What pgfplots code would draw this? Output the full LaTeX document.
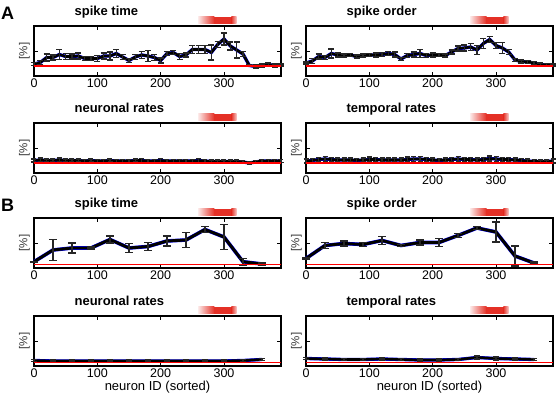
\documentclass[border=0pt]{standalone}
\usepackage{fontspec}
\setmainfont{Liberation Sans}
\usepackage{pgfplots}
\pgfplotsset{compat=1.18}
\usepackage{pgfplotstable}

\definecolor{barred}{RGB}{228,48,38}

% A: 10-neuron bins
\pgfplotstableread{
x y e
0 0.24 0.03
10 0.27 0.04
20 0.37 0.07
30 0.37 0.05
40 0.43 0.10
50 0.39 0.06
60 0.39 0.05
70 0.40 0.06
80 0.35 0.04
90 0.35 0.04
100 0.35 0.06
110 0.40 0.06
120 0.40 0.08
130 0.45 0.08
140 0.38 0.05
150 0.31 0.04
160 0.38 0.05
170 0.42 0.07
180 0.40 0.11
190 0.37 0.06
200 0.31 0.05
210 0.45 0.04
220 0.47 0.04
230 0.39 0.06
240 0.42 0.04
250 0.53 0.08
260 0.53 0.08
270 0.53 0.08
280 0.47 0.15
290 0.63 0.06
300 0.74 0.12
310 0.60 0.08
320 0.52 0.16
330 0.44 0.05
340 0.21 0.02
350 0.19 0.03
360 0.21 0.03
370 0.23 0.03
380 0.21 0.03
390 0.22 0.02
}\stA

\pgfplotstableread{
x y e
0 0.26 0.02
10 0.30 0.05
20 0.39 0.05
30 0.37 0.04
40 0.45 0.09
50 0.42 0.04
60 0.41 0.03
70 0.42 0.03
80 0.39 0.03
90 0.41 0.03
100 0.42 0.03
110 0.42 0.04
120 0.43 0.04
130 0.45 0.04
140 0.43 0.05
150 0.34 0.03
160 0.41 0.04
170 0.43 0.05
180 0.45 0.08
190 0.41 0.04
200 0.42 0.04
210 0.42 0.03
220 0.41 0.03
230 0.48 0.04
240 0.55 0.05
250 0.56 0.06
260 0.58 0.07
270 0.52 0.09
280 0.65 0.10
290 0.73 0.06
300 0.61 0.06
310 0.56 0.11
320 0.48 0.05
330 0.32 0.03
340 0.29 0.03
350 0.28 0.03
360 0.26 0.03
370 0.23 0.03
380 0.22 0.03
390 0.22 0.02
}\soA

\pgfplotstableread{
x y e
0 0.25 0.03
10 0.26 0.04
20 0.25 0.03
30 0.25 0.03
40 0.26 0.04
50 0.25 0.03
60 0.25 0.03
70 0.25 0.03
80 0.24 0.03
90 0.25 0.03
100 0.24 0.03
110 0.24 0.03
120 0.25 0.03
130 0.24 0.03
140 0.24 0.03
150 0.24 0.03
160 0.25 0.03
170 0.25 0.04
180 0.24 0.03
190 0.24 0.03
200 0.25 0.04
210 0.24 0.03
220 0.24 0.03
230 0.24 0.03
240 0.24 0.03
250 0.24 0.03
260 0.25 0.04
270 0.24 0.03
280 0.23 0.03
290 0.23 0.03
300 0.23 0.03
310 0.23 0.03
320 0.23 0.03
330 0.22 0.03
340 0.20 0.03
350 0.22 0.03
360 0.24 0.03
370 0.24 0.03
380 0.24 0.03
390 0.24 0.03
}\nrA

\pgfplotstableread{
x y e
0 0.24 0.04
10 0.25 0.04
20 0.27 0.04
30 0.28 0.05
40 0.27 0.04
50 0.26 0.04
60 0.26 0.04
70 0.26 0.04
80 0.25 0.04
90 0.26 0.04
100 0.27 0.05
110 0.27 0.04
120 0.26 0.04
130 0.26 0.04
140 0.26 0.04
150 0.26 0.04
160 0.27 0.05
170 0.28 0.05
180 0.28 0.05
190 0.27 0.04
200 0.26 0.04
210 0.25 0.04
220 0.26 0.04
230 0.27 0.04
240 0.28 0.05
250 0.27 0.04
260 0.27 0.04
270 0.26 0.04
280 0.27 0.04
290 0.29 0.05
300 0.28 0.05
310 0.27 0.04
320 0.27 0.04
330 0.26 0.04
340 0.25 0.04
350 0.24 0.04
360 0.23 0.04
370 0.23 0.03
380 0.23 0.03
390 0.24 0.04
}\trA

% B: 30-neuron bins
\pgfplotstableread{
x y e
0 0.125 0.01
30 0.36 0.21
60 0.40 0.10
90 0.40 0.02
120 0.57 0.07
150 0.40 0.09
180 0.43 0.08
210 0.54 0.10
240 0.56 0.15
270 0.77 0.06
300 0.62 0.25
330 0.125 0.07
360 0.08 0.02
}\stB

\pgfplotstableread{
x y e
0 0.19 0.01
30 0.45 0.06
60 0.49 0.05
90 0.47 0.04
120 0.55 0.08
150 0.45 0.02
180 0.51 0.05
210 0.51 0.08
240 0.65 0.04
270 0.80 0.03
300 0.72 0.20
330 0.24 0.20
360 0.10 0.02
}\soB

\pgfplotstableread{
x y e
0 0.11 0.02
30 0.10 0.02
60 0.10 0.02
90 0.10 0.02
120 0.10 0.02
150 0.10 0.02
180 0.10 0.02
210 0.10 0.02
240 0.10 0.02
270 0.10 0.02
300 0.10 0.02
330 0.11 0.02
360 0.13 0.02
}\nrB

\pgfplotstableread{
x y e
0 0.15 0.02
30 0.14 0.02
60 0.13 0.02
90 0.13 0.02
120 0.14 0.02
150 0.13 0.02
180 0.12 0.02
210 0.12 0.02
240 0.13 0.02
270 0.17 0.03
300 0.15 0.03
330 0.14 0.02
360 0.13 0.02
}\trB

\pgfplotsset{
  panel/.style={
    scale only axis, width=247pt, height=50pt,
    xmin=0, xmax=390, ymin=0, ymax=1,
    xtick={0,100,200,300}, ytick={0.5}, yticklabels={},
    tick align=inside, major tick length=4pt,
    axis line style={line width=1.2pt},
    every tick/.style={black, line width=0.8pt},
    xticklabel style={font=\fontsize{12.5}{14}\selectfont, yshift=1pt},
    /pgf/number format/assume math mode=true,
    ylabel={[\%]},
    every axis y label/.style={at={(rel axis cs:0,0.5)}, rotate=90, anchor=south,
      inner sep=4pt, font=\fontsize{11.5}{13}\selectfont, black!80},
    title style={at={(rel axis cs:0.15,1)}, anchor=base west, yshift=4pt,
      font=\bfseries\fontsize{13}{15}\selectfont},
    clip=false,
  },
  ser/.style={draw=black, line width=2.6pt, error bars/.cd, y dir=both, y explicit,
    error bar style={line width=1.2pt, black!85},
    error mark=-,
    error mark options={rotate=90, mark size=#1, line width=1.2pt, black!85}},
}

\newcommand{\redbar}{%
  \shade[left color=barred!10, right color=barred] (axis cs:259,1.04) rectangle (axis cs:285,1.18);
  \fill[barred] (axis cs:284.5,1.04) rectangle (axis cs:312,1.18);
  \shade[left color=barred, right color=barred!25] (axis cs:311.5,1.04) rectangle (axis cs:320,1.18);
}

\begin{document}
\begin{tikzpicture}
\useasboundingbox (0,0) rectangle (558pt,-398pt);
\node[anchor=base west, font=\bfseries\fontsize{18}{20}\selectfont, inner sep=0] at (1pt,-20pt) {A};
\node[anchor=base west, font=\bfseries\fontsize{18}{20}\selectfont, inner sep=0] at (1pt,-212pt) {B};

\begin{axis}[panel, at={(34pt,-26pt)}, anchor=north west, title={spike time}]
\addplot[blue, line width=3.3pt] table[x=x,y=y]{\stA};
\addplot[ser=3pt] table[x=x,y=y,y error=e]{\stA};
\addplot[red, line width=1.7pt] coordinates {(0,0.2) (390,0.2)};
\redbar
\end{axis}

\begin{axis}[panel, at={(306pt,-26pt)}, anchor=north west, title={spike order}]
\addplot[blue, line width=3.3pt] table[x=x,y=y]{\soA};
\addplot[ser=3pt] table[x=x,y=y,y error=e]{\soA};
\addplot[red, line width=1.7pt] coordinates {(0,0.2) (390,0.2)};
\redbar
\end{axis}

\begin{axis}[panel, at={(34pt,-123pt)}, anchor=north west, title={neuronal rates}]
\addplot[blue, line width=3.3pt] table[x=x,y=y]{\nrA};
\addplot[ser=2.5pt] table[x=x,y=y,y error=e]{\nrA};
\addplot[red, line width=1.7pt] coordinates {(0,0.2) (390,0.2)};
\redbar
\end{axis}

\begin{axis}[panel, at={(306pt,-123pt)}, anchor=north west, title={temporal rates}]
\addplot[blue, line width=3.3pt] table[x=x,y=y]{\trA};
\addplot[ser=2.5pt] table[x=x,y=y,y error=e]{\trA};
\addplot[red, line width=1.7pt] coordinates {(0,0.2) (390,0.2)};
\redbar
\end{axis}

\begin{axis}[panel, at={(34pt,-218pt)}, anchor=north west, title={spike time}]
\addplot[blue, line width=3.6pt] table[x=x,y=y]{\stB};
\addplot[ser=4pt, /tikz/line width=2.9pt] table[x=x,y=y,y error=e]{\stB};
\addplot[red, line width=1.7pt] coordinates {(0,0.07) (390,0.07)};
\redbar
\end{axis}

\begin{axis}[panel, at={(306pt,-218pt)}, anchor=north west, title={spike order}]
\addplot[blue, line width=3.6pt] table[x=x,y=y]{\soB};
\addplot[ser=4pt, /tikz/line width=2.9pt] table[x=x,y=y,y error=e]{\soB};
\addplot[red, line width=1.7pt] coordinates {(0,0.07) (390,0.07)};
\redbar
\end{axis}

\begin{axis}[panel, at={(34pt,-316pt)}, anchor=north west, title={neuronal rates},
  xlabel={neuron ID (sorted)}, xlabel style={font=\fontsize{13}{15}\selectfont, yshift=3pt}]
\addplot[blue, line width=3.3pt] table[x=x,y=y]{\nrB};
\addplot[ser=3pt] table[x=x,y=y,y error=e]{\nrB};
\addplot[red, line width=1.7pt] coordinates {(0,0.07) (390,0.07)};
\redbar
\end{axis}

\begin{axis}[panel, at={(306pt,-316pt)}, anchor=north west, title={temporal rates},
  xlabel={neuron ID (sorted)}, xlabel style={font=\fontsize{13}{15}\selectfont, yshift=3pt}]
\addplot[blue, line width=3.3pt] table[x=x,y=y]{\trB};
\addplot[ser=3pt] table[x=x,y=y,y error=e]{\trB};
\addplot[red, line width=1.7pt] coordinates {(0,0.07) (390,0.07)};
\redbar
\end{axis}
\end{tikzpicture}
\end{document}
